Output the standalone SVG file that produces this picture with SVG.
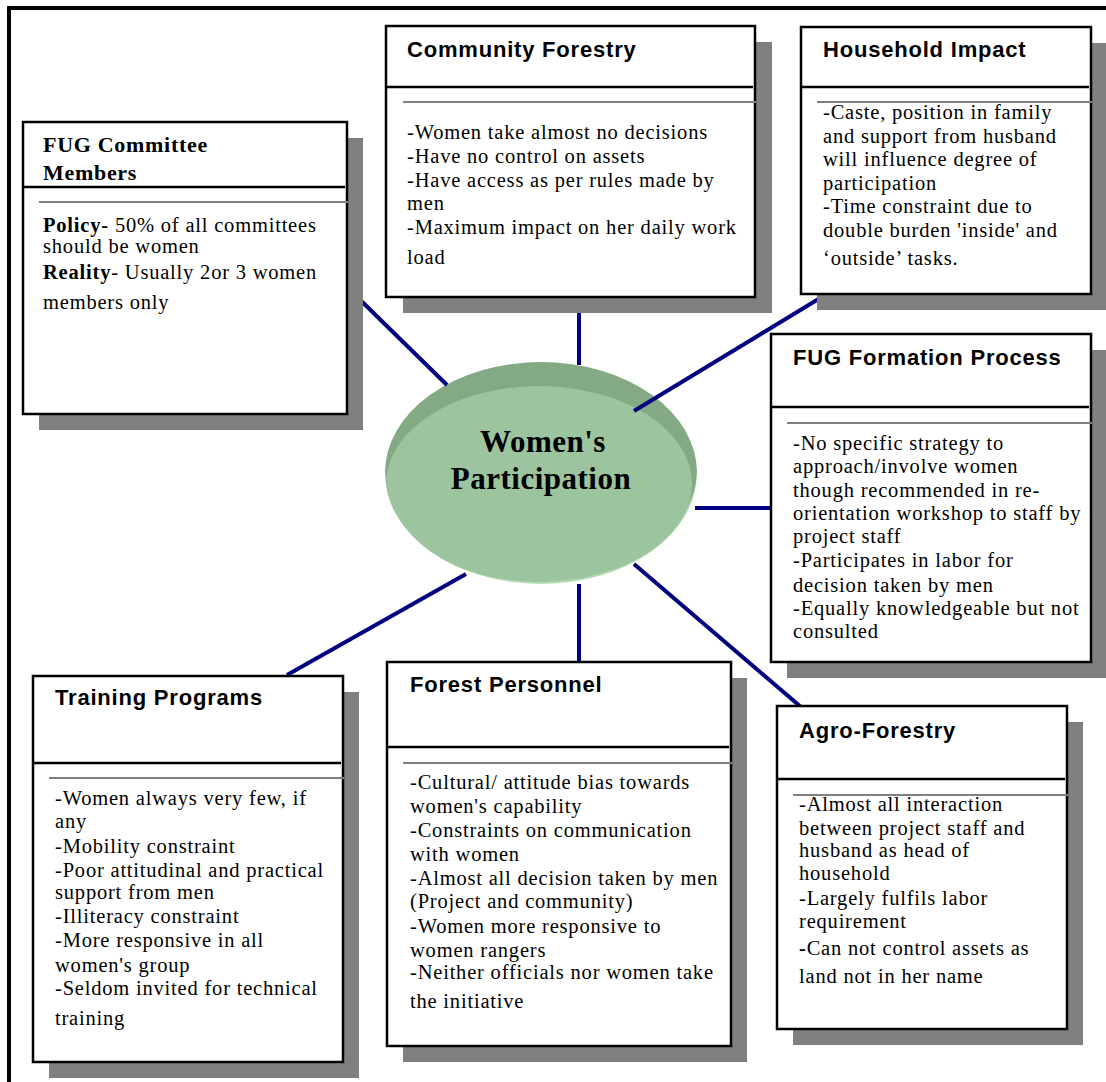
<svg xmlns="http://www.w3.org/2000/svg" width="1106" height="1082" viewBox="0 0 1106 1082">
<style>
.frame{fill:none;stroke:#000;stroke-width:4}
.box{fill:#fff;stroke:#000;stroke-width:2.5}
.sh{fill:#808080}
.dv{stroke:#000;stroke-width:2.5}
.gr{stroke:#808080;stroke-width:2}
.t{font-family:"Liberation Sans",Arial,sans-serif;font-weight:bold;font-size:22px;letter-spacing:0.8px;fill:#000}
.ts{font-family:"Liberation Serif","Times New Roman",serif;font-weight:bold;font-size:22px;letter-spacing:0.7px;fill:#000}
.b{font-family:"Liberation Serif","Times New Roman",serif;font-size:20.5px;letter-spacing:0.8px;fill:#000}
.bb{font-weight:bold}
.conn line{stroke:#000080;stroke-width:4}
.ct{font-family:"Liberation Serif","Times New Roman",serif;font-weight:bold;font-size:31px;letter-spacing:0.5px;fill:#000;text-anchor:middle}
</style>
<defs>
<clipPath id="oc"><ellipse cx="541" cy="473" rx="156" ry="111"/></clipPath>
</defs>
<rect class="frame" x="9" y="8" width="1120" height="1100"/>

<g id="center">
<ellipse cx="541" cy="473" rx="156" ry="111" fill="#b3dcb4"/>
<g clip-path="url(#oc)">
<ellipse cx="541" cy="470" rx="156" ry="108" fill="#84aa85"/>
<ellipse cx="539" cy="484" rx="153" ry="98" fill="#9cc49e"/>
</g>
<text class="ct" x="543" y="452">Women's</text>
<text class="ct" x="541" y="489">Participation</text>
</g>

<g id="connectors" class="conn">
<line x1="347" y1="287" x2="447" y2="385"/>
<line x1="579" y1="297" x2="579" y2="365"/>
<line x1="830" y1="292" x2="634" y2="411"/>
<line x1="695" y1="508" x2="771" y2="508"/>
<line x1="634" y1="564" x2="801" y2="707"/>
<line x1="579" y1="584" x2="579" y2="662"/>
<line x1="466" y1="574" x2="287" y2="675"/>
</g>

<g id="fug-committee">
<rect class="sh" x="39" y="138" width="324" height="292"/>
<rect class="box" x="23" y="122" width="324" height="292"/>
<line class="dv" x1="23" y1="187" x2="345" y2="187"/>
<line class="gr" x1="39" y1="202" x2="348" y2="202"/>
<text class="ts" x="43" y="152">FUG Committee</text>
<text class="ts" x="43" y="180">Members</text>
<text class="b" x="43" y="232"><tspan class="bb">Policy-</tspan> 50% of all committees</text>
<text class="b" x="43" y="253">should be women</text>
<text class="b" x="43" y="279"><tspan class="bb">Reality</tspan>- Usually 2or 3 women</text>
<text class="b" x="43" y="309">members only</text>
</g>

<g id="community-forestry">
<rect class="sh" x="403" y="42" width="369" height="271"/>
<rect class="box" x="386" y="26" width="369" height="271"/>
<line class="dv" x1="386" y1="87" x2="753" y2="87"/>
<line class="gr" x1="403" y1="102" x2="756" y2="102"/>
<text class="t" x="407" y="57">Community Forestry</text>
<text class="b" x="407" y="139">-Women take almost no decisions</text>
<text class="b" x="407" y="163">-Have no control on assets</text>
<text class="b" x="407" y="187">-Have access as per rules made by</text>
<text class="b" x="407" y="210">men</text>
<text class="b" x="407" y="234">-Maximum impact on her daily work</text>
<text class="b" x="407" y="264">load</text>
</g>

<g id="household-impact">
<rect class="sh" x="817" y="43" width="290" height="267"/>
<rect class="box" x="801" y="27" width="290" height="267"/>
<line class="dv" x1="801" y1="87" x2="1089" y2="87"/>
<line class="gr" x1="817" y1="102" x2="1092" y2="102"/>
<text class="t" x="823" y="57">Household Impact</text>
<text class="b" x="823" y="119">-Caste, position in family</text>
<text class="b" x="823" y="143">and support from husband</text>
<text class="b" x="823" y="166">will influence degree of</text>
<text class="b" x="823" y="190">participation</text>
<text class="b" x="823" y="213">-Time constraint due to</text>
<text class="b" x="823" y="237">double burden 'inside' and</text>
<text class="b" x="823" y="265">‘outside’ tasks.</text>
</g>

<g id="fug-formation">
<rect class="sh" x="787" y="350" width="320" height="328"/>
<rect class="box" x="771" y="334" width="320" height="328"/>
<line class="dv" x1="771" y1="407" x2="1089" y2="407"/>
<line class="gr" x1="787" y1="423" x2="1092" y2="423"/>
<text class="t" x="793" y="365">FUG Formation Process</text>
<text class="b" x="793" y="450">-No specific strategy to</text>
<text class="b" x="793" y="473">approach/involve women</text>
<text class="b" x="793" y="497">though recommended in re-</text>
<text class="b" x="793" y="520">orientation workshop to staff by</text>
<text class="b" x="793" y="543">project staff</text>
<text class="b" x="793" y="567">-Participates in labor for</text>
<text class="b" x="793" y="592">decision taken by men</text>
<text class="b" x="793" y="615">-Equally knowledgeable but not</text>
<text class="b" x="793" y="638">consulted</text>
</g>

<g id="training-programs">
<rect class="sh" x="49" y="692" width="310" height="386"/>
<rect class="box" x="33" y="676" width="310" height="386"/>
<line class="dv" x1="33" y1="763" x2="341" y2="763"/>
<line class="gr" x1="49" y1="778" x2="344" y2="778"/>
<text class="t" x="55" y="705">Training Programs</text>
<text class="b" x="55" y="805">-Women always very few, if</text>
<text class="b" x="55" y="828">any</text>
<text class="b" x="55" y="853">-Mobility constraint</text>
<text class="b" x="55" y="877">-Poor attitudinal and practical</text>
<text class="b" x="55" y="899">support from men</text>
<text class="b" x="55" y="923">-Illiteracy constraint</text>
<text class="b" x="55" y="947">-More responsive in all</text>
<text class="b" x="55" y="972">women's group</text>
<text class="b" x="55" y="995">-Seldom invited for technical</text>
<text class="b" x="55" y="1025">training</text>
</g>

<g id="forest-personnel">
<rect class="sh" x="403" y="678" width="344" height="384"/>
<rect class="box" x="387" y="662" width="344" height="384"/>
<line class="dv" x1="387" y1="747" x2="729" y2="747"/>
<line class="gr" x1="403" y1="763" x2="732" y2="763"/>
<text class="t" x="410" y="692">Forest Personnel</text>
<text class="b" x="410" y="789">-Cultural/ attitude bias towards</text>
<text class="b" x="410" y="813">women's capability</text>
<text class="b" x="410" y="837">-Constraints on communication</text>
<text class="b" x="410" y="861">with women</text>
<text class="b" x="410" y="885">-Almost all decision taken by men</text>
<text class="b" x="410" y="908">(Project and community)</text>
<text class="b" x="410" y="933">-Women more responsive to</text>
<text class="b" x="410" y="957">women rangers</text>
<text class="b" x="410" y="979">-Neither officials nor women take</text>
<text class="b" x="410" y="1008">the initiative</text>
</g>

<g id="agro-forestry">
<rect class="sh" x="793" y="722" width="290" height="323"/>
<rect class="box" x="777" y="706" width="290" height="323"/>
<line class="dv" x1="777" y1="779" x2="1065" y2="779"/>
<line class="gr" x1="793" y1="795" x2="1068" y2="795"/>
<text class="t" x="799" y="738">Agro-Forestry</text>
<text class="b" x="799" y="811">-Almost all interaction</text>
<text class="b" x="799" y="835">between project staff and</text>
<text class="b" x="799" y="857">husband as head of</text>
<text class="b" x="799" y="880">household</text>
<text class="b" x="799" y="905">-Largely fulfils labor</text>
<text class="b" x="799" y="928">requirement</text>
<text class="b" x="799" y="955"><tspan class="bb">-</tspan>Can not control assets as</text>
<text class="b" x="799" y="983">land not in her name</text>
</g>
</svg>
